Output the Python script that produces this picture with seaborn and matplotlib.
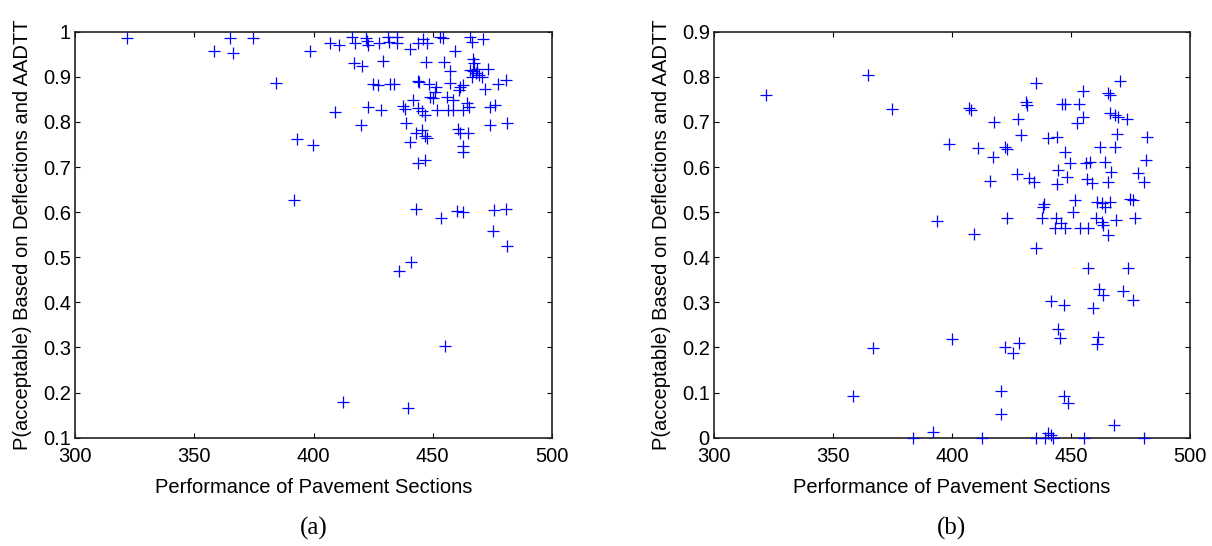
import numpy as np
import pandas as pd
import matplotlib
matplotlib.use("Agg")
import matplotlib.pyplot as plt
import seaborn as sns

# ---------------- data ----------------
perf_a = [321.7, 364.9, 374.7, 358.2, 366.4, 384.1, 392.9, 391.7, 399.9, 398.7,
          406.8, 410.8, 416.0, 417.6, 422.2, 422.9, 422.5, 427.6, 431.3, 435.1,
          435.1, 431.7, 440.4, 443.9, 446.0, 447.4, 453.0, 454.4, 459.3, 465.5,
          466.3, 470.9, 417.0, 420.5, 429.2, 447.1, 454.8, 457.2, 466.7, 467.5,
          465.5, 467.0, 468.0, 469.5, 468.5, 470.5, 466.5, 473.2, 425.0, 427.2,
          432.0, 433.7, 443.9, 444.3, 448.5, 451.3, 450.9, 457.2, 461.3, 462.6,
          460.8, 471.8, 477.4, 480.9, 448.8, 450.2, 456.1, 458.3, 441.8, 437.6,
          438.3, 443.9, 445.7, 446.7, 451.6, 456.5, 458.6, 462.8, 464.3, 465.0,
          473.9, 476.0, 408.9, 422.9, 428.1, 420.0, 438.7, 442.9, 445.3, 446.7,
          447.4, 440.4, 460.7, 461.4, 464.9, 473.9, 481.3, 462.5, 462.8, 443.9,
          446.7, 442.9, 453.6, 460.0, 462.6, 475.6, 480.7, 475.4, 481.3, 435.9,
          440.8, 455.3, 412.4, 439.7]
prob_a = [0.987, 0.987, 0.987, 0.958, 0.953, 0.886, 0.763, 0.626, 0.748, 0.958,
          0.976, 0.970, 0.989, 0.974, 0.985, 0.970, 0.980, 0.974, 0.989, 0.989,
          0.976, 0.978, 0.961, 0.976, 0.983, 0.976, 0.988, 0.985, 0.958, 0.989,
          0.978, 0.983, 0.931, 0.924, 0.935, 0.933, 0.933, 0.912, 0.939, 0.930,
          0.915, 0.912, 0.908, 0.905, 0.917, 0.900, 0.900, 0.918, 0.883, 0.882,
          0.883, 0.883, 0.891, 0.888, 0.885, 0.877, 0.867, 0.886, 0.877, 0.881,
          0.871, 0.874, 0.884, 0.894, 0.856, 0.853, 0.856, 0.849, 0.849, 0.835,
          0.828, 0.830, 0.824, 0.815, 0.826, 0.826, 0.826, 0.826, 0.841, 0.832,
          0.834, 0.838, 0.823, 0.832, 0.826, 0.793, 0.797, 0.776, 0.782, 0.768,
          0.765, 0.756, 0.784, 0.776, 0.776, 0.793, 0.798, 0.747, 0.734, 0.710,
          0.716, 0.606, 0.586, 0.603, 0.600, 0.605, 0.608, 0.559, 0.525, 0.470,
          0.490, 0.304, 0.180, 0.165]

perf_b = [321.7, 364.8, 374.7, 398.7, 393.8, 435.3, 470.6, 454.9, 466.4, 465.5,
          407.1, 408.0, 431.1, 431.4, 446.1, 447.5, 453.5, 466.4, 468.5, 469.9,
          473.4, 454.9, 452.4, 417.8, 427.9, 469.2, 481.8, 429.0, 440.5, 444.2,
          410.8, 422.3, 423.3, 462.2, 468.5, 417.1, 447.5, 449.6, 456.3, 458.0,
          464.3, 481.5, 444.7, 466.7, 427.2, 432.5, 434.5, 448.2, 456.9, 458.7,
          465.4, 478.0, 480.8, 416.0, 444.0, 438.8, 438.4, 451.7, 451.0, 460.8,
          462.9, 464.3, 466.4, 474.8, 475.9, 423.2, 437.7, 443.7, 446.0, 460.4,
          462.9, 463.6, 468.8, 476.9, 443.3, 447.5, 453.8, 457.3, 409.4, 435.3,
          465.7, 457.0, 474.1, 461.9, 463.3, 472.0, 475.9, 441.6, 447.2, 459.1,
          444.7, 445.4, 461.2, 460.8, 399.9, 366.7, 422.3, 425.5, 428.3, 420.5,
          420.5, 358.5, 447.2, 448.9, 468.2, 392.1, 383.5, 412.5, 435.3, 439.1,
          440.5, 441.6, 442.3, 455.5, 480.8]
prob_b = [0.760, 0.804, 0.729, 0.651, 0.481, 0.787, 0.790, 0.769, 0.760, 0.765,
          0.730, 0.727, 0.745, 0.737, 0.740, 0.740, 0.740, 0.720, 0.715, 0.710,
          0.706, 0.710, 0.697, 0.699, 0.706, 0.673, 0.666, 0.671, 0.664, 0.667,
          0.643, 0.645, 0.641, 0.645, 0.645, 0.623, 0.634, 0.610, 0.608, 0.612,
          0.612, 0.616, 0.593, 0.590, 0.585, 0.575, 0.567, 0.577, 0.573, 0.565,
          0.567, 0.586, 0.567, 0.570, 0.562, 0.518, 0.511, 0.527, 0.501, 0.523,
          0.520, 0.512, 0.523, 0.530, 0.528, 0.488, 0.488, 0.488, 0.475, 0.486,
          0.479, 0.471, 0.482, 0.488, 0.464, 0.464, 0.464, 0.464, 0.451, 0.420,
          0.449, 0.377, 0.377, 0.329, 0.316, 0.326, 0.305, 0.303, 0.294, 0.288,
          0.242, 0.220, 0.224, 0.208, 0.219, 0.198, 0.200, 0.187, 0.209, 0.103,
          0.052, 0.092, 0.092, 0.076, 0.029, 0.013, 0.000, 0.000, 0.000, 0.000,
          0.010, 0.005, 0.000, 0.000, 0.000]

x_ticks = [300, 350, 400, 450, 500]
y_ticks_a = [0.1, 0.2, 0.3, 0.4, 0.5, 0.6, 0.7, 0.8, 0.9, 1.0]
y_ticks_b = [0.0, 0.1, 0.2, 0.3, 0.4, 0.5, 0.6, 0.7, 0.8, 0.9]
y_ticklabels_a = ["0.1", "0.2", "0.3", "0.4", "0.5", "0.6", "0.7", "0.8", "0.9", "1"]
y_ticklabels_b = ["0", "0.1", "0.2", "0.3", "0.4", "0.5", "0.6", "0.7", "0.8", "0.9"]
xlabel = "Performance of Pavement Sections"
ylabel = "P(acceptable) Based on Deflections and AADTT"
panel_labels = ["(a)", "(b)"]

# ---------------- style ----------------
sns.set_theme(style="white")
plt.rcParams["font.family"] = ["Liberation Sans", "DejaVu Sans"]
plt.rcParams["xtick.direction"] = "in"
plt.rcParams["ytick.direction"] = "in"

W, H = 1212, 546
fig = plt.figure(figsize=(W / 100, H / 100), dpi=100)
fig.patch.set_facecolor("white")

ax_a = fig.add_axes([75 / W, 1 - 437.7 / H, 477 / W, 406 / H])
ax_b = fig.add_axes([714 / W, 1 - 437.7 / H, 476 / W, 406 / H])

df_a = pd.DataFrame({"perf": perf_a, "prob": prob_a})
df_b = pd.DataFrame({"perf": perf_b, "prob": prob_b})

panels = [
    (ax_a, df_a, (0.1, 1.0), y_ticks_a, y_ticklabels_a),
    (ax_b, df_b, (0.0, 0.9), y_ticks_b, y_ticklabels_b),
]

for i, (ax, df, ylim, yt, ytl) in enumerate(panels):
    sns.scatterplot(data=df, x="perf", y="prob", ax=ax, marker="+",
                    color="#0000ff", s=80, linewidth=0.9, clip_on=False,
                    legend=False, zorder=3)
    ax.set_xlim(300, 500)
    ax.set_ylim(*ylim)
    ax.set_xticks(x_ticks)
    ax.set_xticklabels([str(t) for t in x_ticks])
    ax.set_yticks(yt)
    ax.set_yticklabels(ytl)
    ax.tick_params(axis="both", which="both", direction="in", length=3.5,
                   width=0.8, colors="black", labelsize=14.5,
                   top=True, right=True, bottom=True, left=True)
    ax.tick_params(axis="x", pad=7)
    ax.tick_params(axis="y", pad=3)
    for sp in ax.spines.values():
        sp.set_visible(True)
        sp.set_color("#222222")
        sp.set_linewidth(1.2)
    ax.set_facecolor("white")
    ax.grid(False)
    ax.set_xlabel(xlabel, fontsize=14.5, color="black")
    ax.set_ylabel(ylabel, fontsize=14.5, color="black")
    ax.xaxis.set_label_coords(0.5, -0.1)
    ax.yaxis.set_label_coords(-0.09, 0.5)
    ax.text(0.5, -0.195, panel_labels[i], transform=ax.transAxes,
            ha="center", va="top", fontsize=18,
            family=["Liberation Serif", "DejaVu Serif"], color="black")

fig.savefig("out.png", dpi=100, facecolor="white")
